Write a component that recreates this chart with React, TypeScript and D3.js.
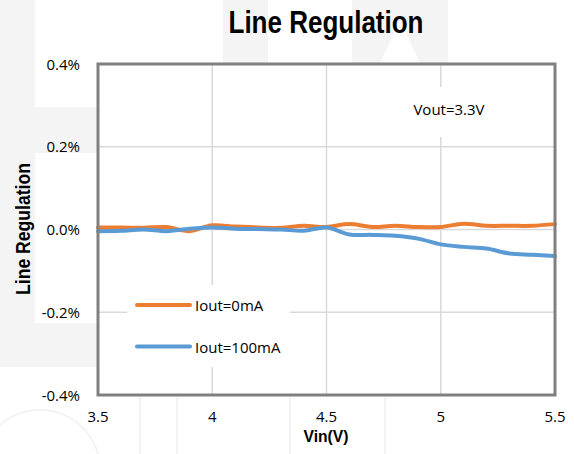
import React from "react";
import * as d3 from "d3";

const vin = [3.5, 3.6, 3.7, 3.8, 3.9, 4.0, 4.1, 4.2, 4.3, 4.4, 4.5, 4.6, 4.7, 4.8, 4.9, 5.0, 5.1, 5.2, 5.3, 5.4, 5.5];
const iout0 = [0.005, 0.005, 0.004, 0.006, -0.004, 0.010, 0.007, 0.005, 0.004, 0.009, 0.006, 0.013, 0.006, 0.009, 0.006, 0.006, 0.014, 0.009, 0.009, 0.009, 0.013];
const iout100 = [-0.004, -0.003, 0.0, -0.004, 0.002, 0.005, 0.002, 0.001, 0.0, -0.003, 0.005, -0.012, -0.013, -0.015, -0.022, -0.036, -0.042, -0.046, -0.058, -0.061, -0.064];
const xTicks = [3.5, 4, 4.5, 5, 5.5];
const yTicks = [0.4, 0.2, 0.0, -0.2, -0.4];
const yTickLabels = ["0.4%", "0.2%", "0.0%", "-0.2%", "-0.4%"];
const seriesNames = ["Iout=0mA", "Iout=100mA"];
const seriesColors = ["#ED7D31", "#5B9BD5"];

const W = 574, H = 454;
const L = 98, R = 555, T = 64, B = 395;

const bold = "'Liberation Sans', Arial, sans-serif";
const body = "'Open Sans', 'Noto Sans', sans-serif";

export default function App() {
  const x = d3.scaleLinear().domain([3.5, 5.5]).range([L, R]);
  const y = d3.scaleLinear().domain([-0.4, 0.4]).range([B, T]);
  const line = d3
    .line<number>()
    .x((_, i) => x(vin[i]))
    .y((d) => y(d))
    .curve(d3.curveCatmullRom.alpha(0.5));
  const series = [iout0, iout100];
  const wm = "#f4f4f4";
  return (
    <svg width={W} height={H} style={{ position: "absolute", left: 0, top: 0, background: "#fff" }}>
      {/* watermark */}
      <g fill={wm}>
        <rect x={0} y={0} width={35} height={367} />
        <rect x={0} y={107} width={97} height={46} />
        <rect x={0} y={323} width={97} height={44} />
        <rect x={223} y={0} width={45} height={63} />
        <polygon points="352,0 448,0 448,63 420,63 400,20 380,63 352,63" />
      </g>
      <g fill="none" stroke="#f0f0f0" strokeWidth={1.5}>
        <circle cx={40} cy={470} r={60} />
        <line x1={140} y1={396} x2={140} y2={454} />
        <line x1={177} y1={396} x2={177} y2={454} />
        <line x1={290} y1={396} x2={290} y2={454} />
        <line x1={385} y1={396} x2={385} y2={454} />
      </g>
      {/* plot area */}
      <rect x={L} y={T} width={R - L} height={B - T} fill="#fff" />
      <g stroke="#d9d9d9" strokeWidth={1.5}>
        {xTicks.slice(1, -1).map((t) => (
          <line key={"x" + t} x1={x(t)} x2={x(t)} y1={T} y2={B} />
        ))}
        {yTicks.slice(1, -1).map((t) => (
          <line key={"y" + t} x1={L} x2={R} y1={y(t)} y2={y(t)} />
        ))}
      </g>
      {/* annotation & legend boxes */}
      <rect x={400} y={87} width={100} height={50} fill="#fff" />
      <rect x={127} y={285} width={163} height={82} fill="#fff" />
      <text x={449} y={115} textAnchor="middle" fontFamily={body} fontSize={15} fill="#000">
        Vout=3.3V
      </text>
      {series.map((s, i) => (
        <path key={i} d={line(s) || ""} fill="none" stroke={seriesColors[i]} strokeWidth={4} strokeLinecap="round" />
      ))}
      {seriesNames.map((n, i) => (
        <g key={n}>
          <line x1={137} x2={190} y1={305 + i * 41.5} y2={305 + i * 41.5} stroke={seriesColors[i]} strokeWidth={4} strokeLinecap="round" />
          <text x={195} y={311 + i * 41.5} fontFamily={body} fontSize={15} fill="#000">
            {n}
          </text>
        </g>
      ))}
      {/* frame */}
      <rect x={L} y={T} width={R - L} height={B - T} fill="none" stroke="#808080" strokeWidth={3} />
      {/* tick labels */}
      {yTicks.map((t, i) => (
        <text key={t} x={80} y={y(t) + 5.5} textAnchor="end" fontFamily={body} fontSize={15} fill="#000">
          {yTickLabels[i]}
        </text>
      ))}
      {xTicks.map((t) => (
        <text key={t} x={x(t)} y={422} textAnchor="middle" fontFamily={body} fontSize={15} fill="#000">
          {String(t)}
        </text>
      ))}
      <text x={326} y={442} textAnchor="middle" fontFamily={bold} fontWeight="bold" fontSize={16.5}
        textLength={45} lengthAdjust="spacingAndGlyphs" fill="#000">
        Vin(V)
      </text>
      <text
        transform={`translate(30,229) rotate(-90)`}
        textAnchor="middle"
        fontFamily={bold}
        fontWeight="bold"
        fontSize={21}
        textLength={132}
        lengthAdjust="spacingAndGlyphs"
        fill="#000"
      >
        Line Regulation
      </text>
      <text x={326} y={33} textAnchor="middle" fontFamily={bold} fontWeight="bold" fontSize={31}
        textLength={195} lengthAdjust="spacingAndGlyphs" fill="#000">
        Line Regulation
      </text>
    </svg>
  );
}
